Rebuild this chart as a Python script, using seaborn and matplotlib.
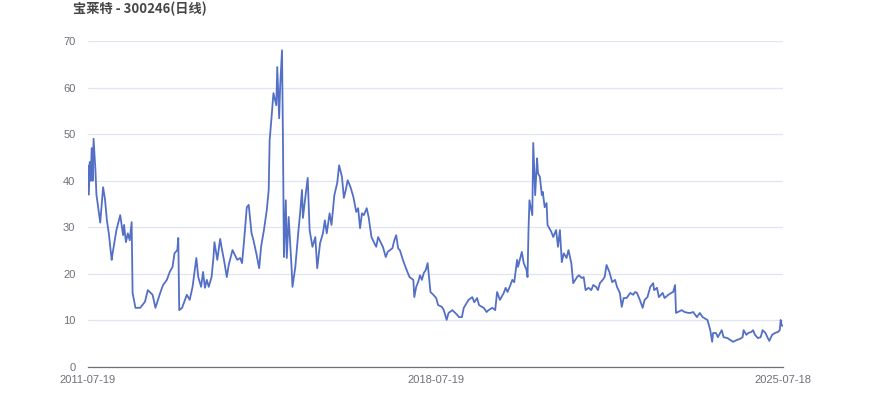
import pandas as pd
import seaborn as sns
import matplotlib.pyplot as plt

title = "宝莱特 - 300246(日线)"
start_date = "2011-07-19"
end_date = "2025-07-18"
tick_dates = ["2011-07-19", "2018-07-19", "2025-07-18"]
y_ticks = [0, 10, 20, 30, 40, 50, 60, 70]

# weeks since start_date
weeks = [
    0, 1, 2, 3, 4, 5, 6, 8, 9, 11, 13, 16, 18, 20, 22, 25, 26, 30, 34, 37,
    38, 40, 42, 44, 46, 47, 50, 55, 60, 63, 66, 68, 71, 76, 79, 83, 86, 89, 91, 94,
    95, 96, 99, 102, 104, 107,
    110, 114, 116, 119, 121, 123, 125, 127, 130, 132, 133, 136, 139, 141, 143, 146, 148, 152, 157, 160,
    162, 164, 167, 169, 172, 174, 177, 180, 182, 185, 188, 190,
    191, 193, 195, 198, 199, 201, 202, 204, 205, 206, 208, 209, 211, 214, 215, 218, 221,
    223, 225, 226, 229, 231, 233, 236, 239, 241, 244, 247, 249, 251, 254, 256, 259, 262, 264, 267, 269,
    271, 273, 276, 279, 282, 284, 286, 288, 290, 293, 295, 298, 301, 303, 305, 308, 310, 313, 315, 320,
    322, 324, 326,
    328, 331, 335, 338, 342, 343, 345, 347, 349, 351, 353, 355, 357, 360, 363, 366, 368, 372, 374, 377,
    379, 383, 385, 388, 390, 393, 395, 398, 400, 404, 406, 409, 411, 414, 416, 419, 421, 425, 428, 430,
    433,
    437, 439, 441, 444, 446, 448, 451, 452, 456, 458, 461, 462, 463, 464, 467, 468, 470, 472, 473, 475,
    477, 478, 480, 482, 483, 487, 489, 492, 494, 496, 498, 500, 503, 505, 508, 510, 514, 516, 519, 521,
    523, 526, 529, 531, 534, 536,
    538, 541, 543, 545, 548, 551, 554, 556, 559, 561, 563, 566, 570, 573, 575, 577, 580, 583, 585, 588,
    591, 594, 595, 598, 600, 604, 606, 610, 613, 615, 617, 618, 620, 624, 627, 631,
    633, 636, 640, 643, 646, 651, 652, 654, 656, 657, 660, 662, 665, 666, 668, 672, 675, 678, 682, 685,
    688, 689, 692, 694, 697, 699, 701, 704, 707, 709, 712, 714, 716, 719, 722, 725, 727, 728, 729, 730,
]

close = [
    43.3, 37, 44, 40, 47, 40, 49, 42, 37, 34, 31, 38.6, 36, 31.5, 28.7, 23, 24.4, 29.4, 32.6, 28.3,
    30.5, 26.8, 28.7, 27.2, 31.1, 15.9, 12.7, 12.7, 14, 16.5, 15.9, 15.5, 12.7, 15.9, 17.6, 18.7, 20.4, 21.5, 24.4, 25.1,
    27.7, 12.2, 12.7, 14.4, 15.5, 14.4,
    17.2, 23.4, 19.3, 17.2, 20.4, 17, 18.7, 17.2, 19.3, 23.6, 26.8, 23, 27.5, 25.1, 23, 19.3, 21.9, 25.1, 23, 23.4,
    22.3, 26.8, 34.3, 34.8, 28.7, 27.2, 24.4, 21.2, 25.8, 29.4, 33.7, 38,
    48.7, 53.6, 58.8, 56.2, 64.4, 53.4, 60, 68, 48.7, 23.6, 35.8, 23.4, 32.2, 21.5, 17.2, 21.5, 28.7,
    33, 38, 32, 37.3, 40.6, 29.4, 25.8, 27.9, 21.2, 26.6, 28.7, 31.5, 28.7, 33, 30.5, 36.9, 39.5, 43.3, 40.8, 36.3,
    38, 40.1, 38.6, 36.5, 33.3, 34.1, 29.8, 33, 32.6, 34.1, 32.2, 27.9, 26.6, 25.8, 27.9, 26.6, 25.8, 23.6, 24.7, 25.5,
    27.2, 28.3, 25.5,
    25, 23, 20.8, 19.3, 18.7, 15, 17.2, 18.2, 19.7, 18.7, 20.2, 20.8, 22.3, 16.1, 15.5, 14.8, 13.3, 12.9, 12.2, 10.1,
    11.6, 12.2, 11.8, 11.2, 10.7, 10.7, 12.7, 13.7, 14.4, 15, 13.9, 14.8, 13.3, 12.9, 12.7, 11.8, 12.2, 12.7, 12.2, 16.1,
    14.4,
    15.9, 17, 16.1, 17.6, 18.7, 18.2, 23, 21.5, 24.7, 22.3, 20.8, 19.3, 29.4, 35.8, 32.6, 48.1, 36.9, 44.8, 41.6, 40.8,
    36.9, 37.6, 34.3, 35.2, 30.5, 29, 27.9, 29.4, 25.8, 29.4, 22.5, 24.4, 23.4, 25.1, 22.3, 18, 19.3, 19.7, 19.1, 19.3,
    16.5, 17, 16.5, 17.6, 17.2, 16.5,
    18, 18.7, 19.3, 21.9, 20.4, 18.2, 18.7, 17.2, 15.9, 12.9, 14.8, 14.8, 15.9, 15.5, 16.1, 15.9, 14.4, 12.7, 14.4, 15,
    17.2, 18, 16.5, 17, 15, 15.9, 14.8, 15.5, 15.9, 16.1, 17.6, 11.6, 11.8, 12.2, 11.8, 11.6,
    11.6, 11.8, 10.7, 11.6, 10.7, 10.1, 9.4, 7.9, 5.4, 7.3, 7.3, 6.4, 7.5, 7.9, 6.4, 6.2, 5.8, 5.4, 5.8, 6,
    6.4, 7.9, 6.9, 7.3, 7.5, 7.9, 6.9, 6.2, 6.4, 7.9, 7.3, 6.4, 5.6, 6.9, 7.3, 7.5, 7.9, 10.1, 9, 8.8,
]

df = pd.DataFrame({
    "date": pd.Timestamp(start_date) + pd.to_timedelta(pd.Series(weeks) * 7, unit="D"),
    "close": close,
})

sns.set_theme(style="white")
plt.rcParams["font.family"] = ["Liberation Sans", "Noto Sans CJK SC", "DejaVu Sans"]

fig = plt.figure(figsize=(8.7, 4.17), dpi=100)
ax = fig.add_axes([0.101, 0.12, 0.799, 0.7817])
sns.lineplot(data=df, x="date", y="close", color="#5470c6", linewidth=1.3, ax=ax)

ax.set_xlim(pd.Timestamp(start_date), pd.Timestamp(end_date))
ax.set_ylim(0, 70)
ax.set_yticks(y_ticks)
ax.set_xticks(pd.to_datetime(tick_dates))
ax.set_xticklabels(tick_dates)
ax.set_xlabel("")
ax.set_ylabel("")
ax.grid(axis="y", color="#e0e6f1", linewidth=0.9)
ax.grid(axis="x", visible=False)
for s in ["top", "right", "left"]:
    ax.spines[s].set_visible(False)
ax.spines["bottom"].set_color("#6e7079")
ax.spines["bottom"].set_linewidth(0.9)
ax.tick_params(axis="both", length=0, labelsize=8, labelcolor="#6e7079")
ax.tick_params(axis="y", pad=9)
ax.tick_params(axis="x", pad=6)

fig.text(0.084, 0.978, title, fontsize=9.5, fontweight="bold", color="#464646",
         family=["Noto Sans CJK SC", "DejaVu Sans"], va="center", ha="left")

fig.savefig("out.png", dpi=100)
